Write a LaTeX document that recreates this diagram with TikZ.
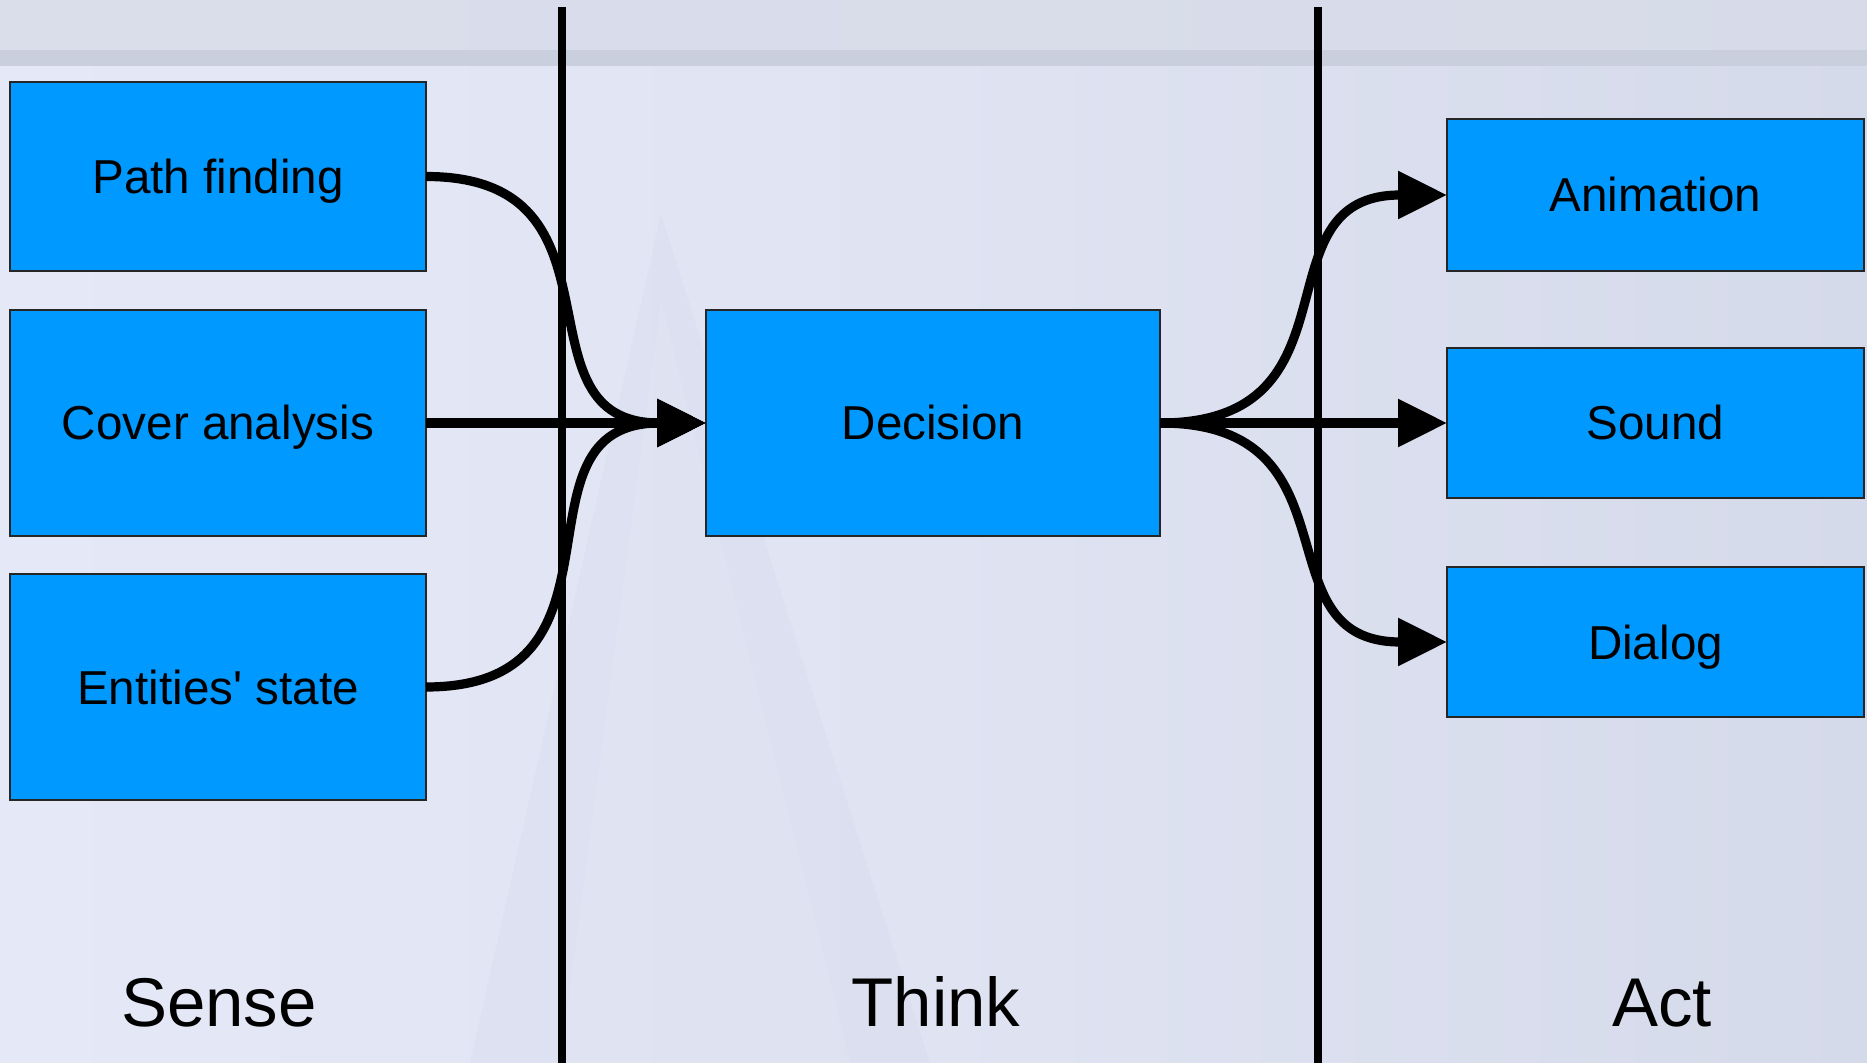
\documentclass[tikz,border=0pt]{standalone}
\usepackage{fontspec}
\setmainfont{Liberation Sans}[Ligatures=TeXOff]
\usetikzlibrary{arrows.meta}

\definecolor{boxblue}{HTML}{0099FF}
\definecolor{bgleft}{HTML}{E4E8F7}
\definecolor{bgmid}{HTML}{DFE3F2}
\definecolor{bgright}{HTML}{D5DAEA}
\definecolor{bgtop}{HTML}{D8DCE9}
\definecolor{bgband}{HTML}{CACFDE}
\definecolor{wedge}{HTML}{C4CADF}

\tikzset{
  stagebox/.style={draw=black!85, line width=0.7pt, fill=boxblue,
    inner sep=0pt, outer sep=0pt, align=center,
    text height=17pt, text depth=0pt,
    font=\fontsize{23.8}{28}\selectfont},
  conn/.style={line width=4.6pt, draw=black,
    -{Triangle[length=24.5pt,width=23pt]}},
  scurve/.style={out=0, in=180, out looseness=1.45, in looseness=1.35},
  divider/.style={line width=4pt, draw=black},
  phase/.style={anchor=base, font=\fontsize{34.5}{40}\selectfont}
}

\begin{document}
\begin{tikzpicture}[x=0.5pt, y=-0.5pt]
  \useasboundingbox (0,0) rectangle (1867,1063);

  % brushed-metal style backdrop
  \shade[left color=bgleft, right color=bgright, middle color=bgmid]
    (0,0) rectangle (1867,1063);
  \fill[bgtop, opacity=0.8] (0,0) rectangle (1867,50);
  \fill[bgband] (0,50) rectangle (1867,66);
  \fill[wedge, opacity=0.12] (661,214) -- (930,1063) -- (470,1063) -- cycle;
  \fill[white, opacity=0.08] (661,300) -- (850,1063) -- (560,1063) -- cycle;

  % phase separators
  \coordinate (s1top) at (562,7);
  \coordinate (s1bot) at (562,1063);
  \coordinate (s2top) at (1318,7);
  \coordinate (s2bot) at (1318,1063);
  \draw[divider] (s1top) -- (s1bot);
  \draw[divider] (s2top) -- (s2bot);

  % sense
  \node[stagebox, minimum width=208pt, minimum height=94.5pt] (path) at (218,176.5) {Path finding};
  \node[stagebox, minimum width=208pt, minimum height=113pt] (cover) at (218,423) {Cover analysis};
  \node[stagebox, minimum width=208pt, minimum height=113pt] (ent) at (218,687) {Entities' state};

  % think
  \node[stagebox, minimum width=227pt, minimum height=113pt] (dec) at (933,423) {Decision};

  % act
  \node[stagebox, minimum width=208.5pt, minimum height=76pt] (anim) at (1655.5,195) {Animation};
  \node[stagebox, minimum width=208.5pt, minimum height=75pt] (sound) at (1655.5,423) {Sound};
  \node[stagebox, minimum width=208.5pt, minimum height=75pt] (dialog) at (1655.5,642) {Dialog};

  % connectors
  \draw[conn] (path.east) to[scurve] (dec.west);
  \draw[conn] (cover.east) -- (dec.west);
  \draw[conn] (ent.east) to[scurve] (dec.west);
  \draw[conn] (dec.east) to[scurve] (anim.west);
  \draw[conn] (dec.east) -- (sound.west);
  \draw[conn] (dec.east) to[scurve] (dialog.west);

  % phase labels
  \node[phase] (sense) at (219,1026) {Sense};
  \node[phase] (think) at (936,1026) {Think};
  \node[phase] (act) at (1662,1026) {Act};
\end{tikzpicture}
\end{document}
